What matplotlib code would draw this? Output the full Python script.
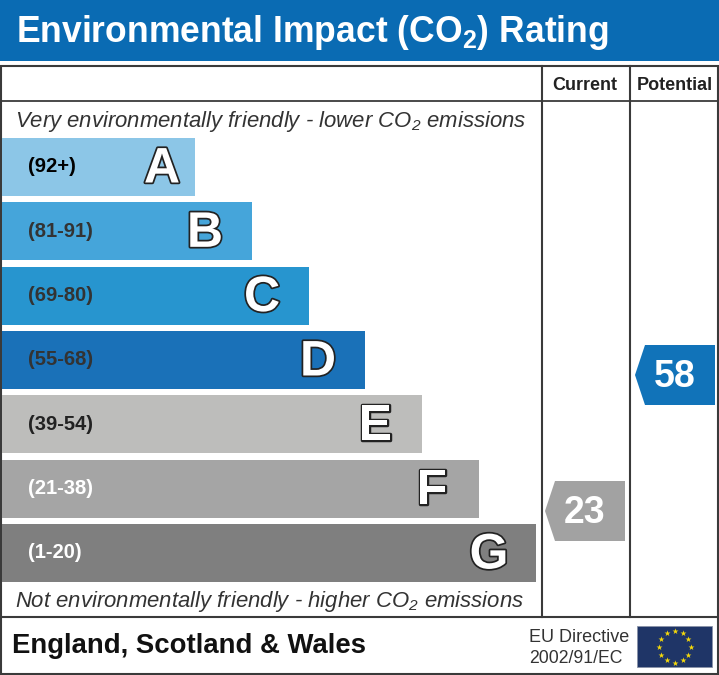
"""EPC style environmental impact rating chart, drawn in pixel coordinates."""

import numpy as np
import matplotlib
matplotlib.use("Agg")
import matplotlib.pyplot as plt
import matplotlib.patheffects as pe
from matplotlib.patches import Polygon, Rectangle

plt.rcParams["font.family"] = ["Liberation Sans", "DejaVu Sans"]
plt.rcParams["mathtext.default"] = "regular"

letters = ["A", "B", "C", "D", "E", "F", "G"]
ranges = ["(92+)", "(81-91)", "(69-80)", "(55-68)", "(39-54)", "(21-38)", "(1-20)"]
band_lengths = [193, 250, 307, 363, 420, 477, 534]
band_colors = ["#8cc6e7", "#45a5da", "#2795cf", "#1a71b8",
               "#bdbdbb", "#a5a5a5", "#7f7f7f"]
range_colors = ["#000000", "#333333", "#333333", "#333333",
                "#222222", "#ffffff", "#ffffff"]

current_rating = 23
potential_rating = 58

BLUE = "#0a6bb3"
LINE = "#3a3a3a"


def rating_arrow(ax, left, top, value, color):
    # hexagon-ish tag with the point on the left, 80 x 60 px
    pts = [(left, top + 30), (left + 10, top), (left + 80, top),
           (left + 80, top + 60), (left + 10, top + 60)]
    ax.add_patch(Polygon(pts, closed=True, facecolor=color, edgecolor="none", zorder=3))
    ax.text(left + 40, top + 32, str(value), color="white", fontsize=27,
            fontweight="bold", ha="center", va="center", zorder=4)


def eu_flag(ax, x0, y0, w, h):
    ax.add_patch(Rectangle((x0, y0), w, h, facecolor="#1f3567",
                           edgecolor="#8a93a8", linewidth=0.6, zorder=3))
    angles = np.deg2rad(np.arange(0, 360, 30))
    cx, cy = x0 + w / 2, y0 + h / 2
    ax.scatter(cx + 16 * np.cos(angles), cy + 16 * np.sin(angles), marker="*",
               s=20, color="#f5d90a", linewidths=0, zorder=4)


fig = plt.figure(figsize=(7.19, 6.75), dpi=100)
ax = fig.add_axes([0, 0, 1, 1])
ax.set_xlim(0, 719)
ax.set_ylim(675, 0)
ax.axis("off")

# header
ax.add_patch(Rectangle((0, 0), 719, 61, facecolor=BLUE, edgecolor="none"))
ax.text(16, 33, r"Environmental Impact (CO$_2$) Rating", color="white",
        fontsize=25.6, fontweight="bold", va="center", ha="left")

# frame and columns
ax.add_patch(Rectangle((1, 66), 717, 608, facecolor="white", edgecolor=LINE, linewidth=1.5))
ax.plot([1, 718], [101, 101], color=LINE, lw=1.3)
ax.plot([1, 718], [617, 617], color=LINE, lw=1.5)
ax.plot([542, 542], [66, 617], color=LINE, lw=1.5)
ax.plot([630, 630], [66, 617], color=LINE, lw=1.5)

ax.text(585, 85, "Current", fontsize=13, fontweight="bold", color="#222222",
        ha="center", va="center")
ax.text(674.5, 85, "Potential", fontsize=13, fontweight="bold", color="#222222",
        ha="center", va="center")

ax.text(15, 122, r"Very environmentally friendly - lower CO$_2$ emissions", fontsize=15.9,
        style="italic", color="#333333", va="center")
ax.text(15, 602, r"Not environmentally friendly - higher CO$_2$ emissions", fontsize=15.9,
        style="italic", color="#333333", va="center")

# bands
rows = 167 + 64.33 * np.arange(len(letters))
ax.barh(rows, band_lengths, height=58, left=2, color=band_colors, linewidth=0)
for i, (y, length, letter, rng, rc) in enumerate(zip(rows, band_lengths, letters, ranges, range_colors)):
    ax.text(28, y, rng, fontsize=14.5, fontweight="bold", color=rc, va="center")
    # the A sits closer to the end of its band than the others
    offset = 33 if i == 0 else 47
    ax.text(2 + length - offset, y - 2.5, letter, fontsize=36, fontweight="bold", color="white",
            ha="center", va="center_baseline",
            path_effects=[pe.withStroke(linewidth=2.5, foreground="#222222")])

rating_arrow(ax, 545, 481, current_rating, "#a2a2a2")
rating_arrow(ax, 635, 345, potential_rating, "#1173b9")

# footer
ax.text(12, 646, "England, Scotland & Wales", fontsize=19.8, fontweight="bold",
        color="#111111", va="center")
ax.text(529, 637, "EU Directive", fontsize=13, color="#333333", va="center")
ax.text(529, 658.5, "2002/91/EC", fontsize=12.7, color="#333333", va="center")
eu_flag(ax, 637, 626, 75, 41)

fig.savefig("out.png", dpi=100)
